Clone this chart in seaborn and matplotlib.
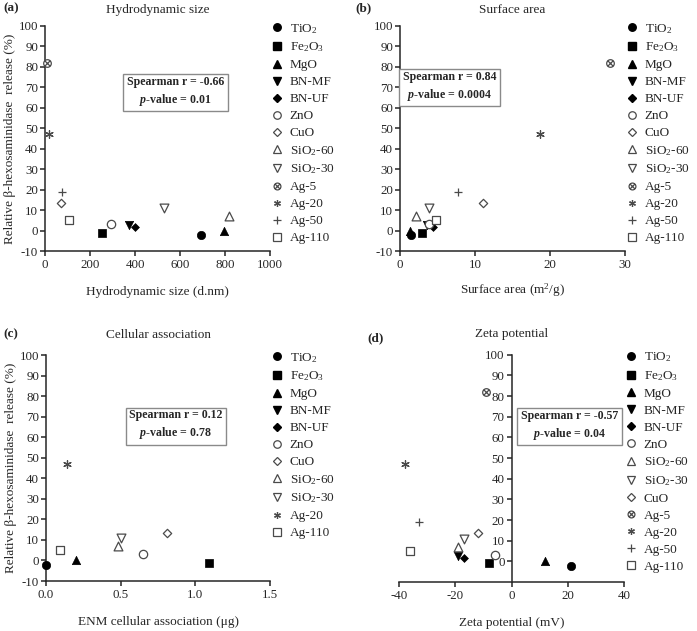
import numpy as np
import pandas as pd
import matplotlib
matplotlib.use("Agg")
import matplotlib.pyplot as plt
import matplotlib.path as mpath
from matplotlib.lines import Line2D
import seaborn as sns

# ---- data ----
release = {
    "TiO2": -2.3, "Fe2O3": -1.0, "MgO": 0.0, "BN-MF": 2.5, "BN-UF": 1.8,
    "ZnO": 3.2, "CuO": 13.5, "SiO2-60": 7.0, "SiO2-30": 11.0,
    "Ag-5": 82.0, "Ag-20": 47.0, "Ag-50": 19.0, "Ag-110": 5.0,
}

enm_ab = ["TiO2", "Fe2O3", "MgO", "BN-MF", "BN-UF", "ZnO", "CuO",
          "SiO2-60", "SiO2-30", "Ag-5", "Ag-20", "Ag-50", "Ag-110"]
hydro_size = [695, 253, 794, 372, 401, 295, 73, 816, 529, 7, 18, 77, 108]
surface_area = [1.4, 2.9, 1.3, 3.6, 4.4, 3.8, 11.0, 2.1, 3.9, 28.0, 18.6, 7.7, 4.8]

enm_c = ["TiO2", "Fe2O3", "MgO", "BN-MF", "BN-UF", "ZnO", "CuO",
         "SiO2-60", "SiO2-30", "Ag-20", "Ag-110"]
cell_assoc = [0.0, 1.09, 0.20, np.nan, np.nan, 0.65, 0.81, 0.48, 0.50, 0.14, 0.095]

enm_d = ["TiO2", "Fe2O3", "MgO", "BN-MF", "BN-UF", "ZnO", "SiO2-60",
         "SiO2-30", "CuO", "Ag-5", "Ag-20", "Ag-50", "Ag-110"]
zeta = [21, -8, 12, -19, -17, -6, -19, -17, -12, -9, -38, -33, -36]

stats = {
    "a": ("-0.66", "0.01"),
    "b": ("0.84", "0.0004"),
    "c": ("0.12", "0.78"),
    "d": ("-0.57", "0.04"),
}

labels = {
    "TiO2": "TiO$_2$", "Fe2O3": "Fe$_2$O$_3$", "SiO2-60": "SiO$_2$-60",
    "SiO2-30": "SiO$_2$-30",
}

# ---- styling ----
sns.set_style("ticks")
plt.rcParams["font.family"] = ["Liberation Serif", "DejaVu Serif"]
plt.rcParams["mathtext.fontset"] = "custom"
plt.rcParams["mathtext.rm"] = "Liberation Serif"
plt.rcParams["mathtext.it"] = "Liberation Serif:italic"
plt.rcParams["mathtext.bf"] = "Liberation Serif:bold"
plt.rcParams["mathtext.bfit"] = "Liberation Serif:italic:bold"
plt.rcParams["axes.unicode_minus"] = False
plt.rcParams["axes.linewidth"] = 1.1
plt.rcParams["xtick.major.width"] = 1.1
plt.rcParams["ytick.major.width"] = 1.1
plt.rcParams["xtick.major.size"] = 3.5
plt.rcParams["ytick.major.size"] = 3.5
plt.rcParams["xtick.major.pad"] = 2.0
plt.rcParams["ytick.major.pad"] = 1.5
plt.rcParams["xtick.labelsize"] = 9.3
plt.rcParams["ytick.labelsize"] = 9.3

d = 0.7071
otimes = mpath.Path.make_compound_path(
    mpath.Path.unit_circle(),
    mpath.Path([(-d, -d), (d, d), (-d, d), (d, -d)], [1, 2, 1, 2]),
)

GREY = "#4a4a4a"
# marker, size (s), filled
marker_style = {
    "TiO2": ("o", 36, True),
    "Fe2O3": ("s", 32, True),
    "MgO": ("^", 36, True),
    "BN-MF": ("v", 36, True),
    "BN-UF": ("D", 16, True),
    "ZnO": ("o", 36, False),
    "CuO": ("D", 18, False),
    "SiO2-60": ("^", 40, False),
    "SiO2-30": ("v", 40, False),
    "Ag-5": (otimes, 30, False),
    "Ag-20": ((6, 2, 0), 30, "line"),
    "Ag-50": ("+", 40, "line"),
    "Ag-110": ("s", 40, False),
}


def draw_panel(ax, names, xs, xlim, xticks):
    handles = []
    for name, xv in zip(names, xs):
        mk, s, filled = marker_style[name]
        if filled is True:
            kw = dict(color="black", edgecolor="black", linewidth=0.5)
            h = Line2D([], [], marker=mk, ls="none", ms=np.sqrt(s) * 0.9,
                       mfc="black", mec="black")
        elif filled is False:
            kw = dict(facecolor="white", edgecolor=GREY, linewidth=0.9)
            h = Line2D([], [], marker=mk, ls="none", ms=np.sqrt(s) * 0.9,
                       mfc="white", mec=GREY, mew=0.9)
        else:
            kw = dict(color=GREY, linewidth=0.9)
            h = Line2D([], [], marker=mk, ls="none", ms=np.sqrt(s) * 0.9,
                       color=GREY, mew=0.9)
        handles.append(h)
        if not np.isnan(xv):
            df = pd.DataFrame({"x": [xv], "y": [release[name]]})
            sns.scatterplot(data=df, x="x", y="y", marker=mk, s=s, ax=ax,
                            clip_on=False, zorder=3, legend=False, **kw)
    ax.set_xlim(*xlim)
    ax.set_ylim(-10, 100)
    ax.set_xticks(xticks)
    ax.set_yticks(np.arange(-10, 101, 10))
    sns.despine(ax=ax)
    ax.legend(handles, [labels.get(n, n) for n in names], loc="upper left",
              bbox_to_anchor=(0.99, 1.03), frameon=False, fontsize=9.5,
              handlelength=1.0, handletextpad=0.45, labelspacing=0.36,
              borderaxespad=0, borderpad=0.2)


def stat_box(ax, key, xf, yf):
    r, p = stats[key]
    ax.text(xf, yf, f"Spearman r = {r}\n" + r"$\mathbfit{p}$" + f"-value = {p}",
            transform=ax.transAxes, ha="center", va="center", fontsize=8.6,
            fontweight="bold", linespacing=1.35, zorder=5,
            bbox=dict(boxstyle="square,pad=0.3", fc="white", ec="#8a8a8a", lw=1.0))


fig = plt.figure(figsize=(6.97, 6.31), dpi=100)
ax_a = fig.add_axes([0.0646, 0.6022, 0.3228, 0.3566])
ax_b = fig.add_axes([0.5739, 0.6022, 0.3228, 0.3566])
ax_c = fig.add_axes([0.0660, 0.0792, 0.3214, 0.3580])
ax_d = fig.add_axes([0.5725, 0.0777, 0.3228, 0.3600])

ylab = "Relative β-hexosaminidase  release (%)"

# (a) hydrodynamic size
draw_panel(ax_a, enm_ab, hydro_size, (0, 1000), np.arange(0, 1001, 200))
stat_box(ax_a, "a", 0.58, 0.707)
ax_a.set_title("Hydrodynamic size", fontsize=9.5, pad=9)
ax_a.set_xlabel("Hydrodynamic size (d.nm)", fontsize=9.5, labelpad=11)
ax_a.set_ylabel(ylab, fontsize=9.5)
ax_a.yaxis.set_label_coords(-0.13, 0.5)

# (b) surface area
draw_panel(ax_b, enm_ab, surface_area, (0, 30), [0, 10, 20, 30])
stat_box(ax_b, "b", 0.22, 0.73)
ax_b.set_title("Surface area", fontsize=9.5, pad=9)
ax_b.set_xlabel("Surface area (m$^2$/g)", fontsize=9.5, labelpad=8)
ax_b.set_ylabel("")

# (c) cellular association
draw_panel(ax_c, enm_c, cell_assoc, (0, 1.5), [0.0, 0.5, 1.0, 1.5])
ax_c.xaxis.set_major_formatter(matplotlib.ticker.FormatStrFormatter("%.1f"))
stat_box(ax_c, "c", 0.58, 0.69)
ax_c.set_title("Cellular association", fontsize=9.5, pad=12)
ax_c.set_xlabel("ENM cellular association (μg)", fontsize=9.5, labelpad=11)
ax_c.set_ylabel(ylab, fontsize=9.5)
ax_c.yaxis.set_label_coords(-0.13, 0.5)

# (d) zeta potential
draw_panel(ax_d, enm_d, zeta, (-40, 40), [-40, -20, 0, 20, 40])
ax_d.set_yticks(np.arange(0, 101, 10))
ax_d.spines["left"].set_position(("data", 0))
stat_box(ax_d, "d", 0.758, 0.687)
ax_d.set_title("Zeta potential", fontsize=9.5, pad=13)
ax_d.set_xlabel("Zeta potential (mV)", fontsize=9.5, labelpad=11)
ax_d.set_ylabel("")

for lab, x, y in [("(a)", 3, 8), ("(b)", 355, 8), ("(c)", 3, 334), ("(d)", 367, 338)]:
    fig.text(x / 697, 1 - y / 631, lab, fontsize=9.5, fontweight="bold",
             ha="left", va="center")

fig.savefig("out.png", dpi=100)
